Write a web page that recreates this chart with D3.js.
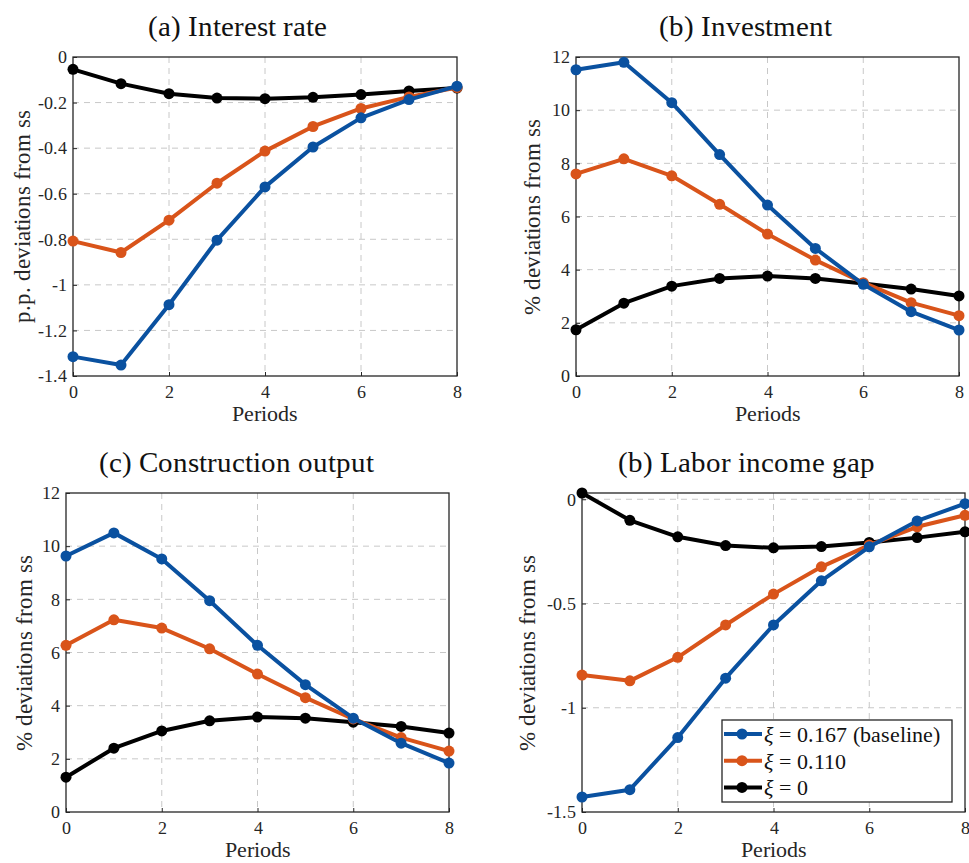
<!DOCTYPE html>
<html>
<head>
<meta charset="UTF-8">
<script src="https://cdn.jsdelivr.net/npm/d3@7"></script>
<style>
    @font-face {
        font-family: "PlotSerif";
        src: local("Liberation Serif"), local("LiberationSerif"), local("Liberation Serif Regular"), local("Tinos");
    }
    @font-face {
        font-family: "PlotSerif";
        font-style: italic;
        src: local("Liberation Serif Italic"), local("LiberationSerif-Italic");
    }
    body { margin: 0; }
    text.t { font-family: "PlotSerif", "Times New Roman", "Liberation Serif", Tinos, Times; }
</style>
</head>
<body>
<script>
    // periods on the x axis
    const periods = [0, 1, 2, 3, 4, 5, 6, 7, 8];
    const xTicks = [0, 2, 4, 6, 8];

    const seriesValues = ["0.167 (baseline)", "0.110", "0"];
    const seriesColors = ["#0a51a0", "#d9541a", "#000000"];

    // (a) interest rate, p.p.
    const rateBase = [-1.315, -1.352, -1.087, -0.804, -0.570, -0.395, -0.267, -0.187, -0.128];
    const rateMid = [-0.808, -0.858, -0.716, -0.554, -0.413, -0.305, -0.226, -0.175, -0.134];
    const rateZero = [-0.054, -0.117, -0.161, -0.180, -0.183, -0.177, -0.165, -0.149, -0.136];
    const rateTicks = [0, -0.2, -0.4, -0.6, -0.8, -1, -1.2, -1.4];

    // (b) investment, %
    const invBase = [11.52, 11.80, 10.28, 8.33, 6.43, 4.80, 3.45, 2.42, 1.73];
    const invMid = [7.60, 8.17, 7.53, 6.46, 5.34, 4.36, 3.51, 2.76, 2.27];
    const invZero = [1.74, 2.74, 3.38, 3.67, 3.76, 3.67, 3.48, 3.27, 3.01];
    const invTicks = [0, 2, 4, 6, 8, 10, 12];

    // (c) construction output, %
    const consBase = [9.63, 10.50, 9.52, 7.95, 6.27, 4.79, 3.53, 2.59, 1.84];
    const consMid = [6.27, 7.23, 6.92, 6.14, 5.19, 4.30, 3.50, 2.80, 2.29];
    const consZero = [1.31, 2.40, 3.05, 3.43, 3.57, 3.53, 3.38, 3.22, 2.97];
    const consTicks = [0, 2, 4, 6, 8, 10, 12];

    // (d) labor income gap, %
    const laborBase = [-1.428, -1.393, -1.143, -0.858, -0.603, -0.391, -0.228, -0.104, -0.021];
    const laborMid = [-0.843, -0.871, -0.758, -0.603, -0.455, -0.324, -0.220, -0.132, -0.077];
    const laborZero = [0.030, -0.101, -0.180, -0.222, -0.233, -0.227, -0.207, -0.184, -0.156];
    const laborTicks = [0, -0.5, -1, -1.5];

    const width = 969;
    const height = 863;
    const fam = "PlotSerif, 'Times New Roman', 'Liberation Serif', Tinos, Times";
    const k2 = 2; // text is set at double size and scaled down, small serif text otherwise falls back

    const panels = [
        { title: "(a) Interest rate", ylabel: "p.p. deviations from ss", series: [rateBase, rateMid, rateZero],
          ydomain: [-1.4, 0], ticks: rateTicks, box: [73, 457, 57, 376], titleX: 237, titleY: 36, ylabX: 25 },
        { title: "(b) Investment", ylabel: "% deviations from ss", series: [invBase, invMid, invZero],
          ydomain: [0, 12], ticks: invTicks, box: [576, 959, 57, 376], titleX: 745, titleY: 36, ylabX: 535 },
        { title: "(c) Construction output", ylabel: "% deviations from ss", series: [consBase, consMid, consZero],
          ydomain: [0, 12], ticks: consTicks, box: [66, 449, 493, 812], titleX: 236, titleY: 472, ylabX: 27 },
        { title: "(b) Labor income gap", ylabel: "% deviations from ss", series: [laborBase, laborMid, laborZero],
          ydomain: [-1.5, 0.03], ticks: laborTicks, box: [582, 965, 493, 812], titleX: 746, titleY: 472, ylabX: 530, legend: true }
    ];

    const svg = d3.select("body").append("svg").attr("width", width).attr("height", height);

    // text placed at (x, y), optionally rotated, drawn big then scaled
    const label = (parent, x, y, size, rot) => {
        const g = parent.append("g").attr("transform", `translate(${x},${y})${rot ? ` rotate(${rot})` : ""} scale(${1 / k2})`);
        return g.append("text").attr("class", "t").style("font-family", fam).style("font-size", (size * k2) + "px");
    };

    panels.forEach(p => {
        const [x0, x1, y0, y1] = p.box;
        const x = d3.scaleLinear().domain([0, 8]).range([x0, x1]);
        const y = d3.scaleLinear().domain(p.ydomain).range([y1, y0]);
        const g = svg.append("g");

        // grid
        g.append("g").selectAll("line")
            .data(xTicks.filter(t => t > 0 && t < 8))
            .join("line")
            .attr("x1", d => x(d)).attr("x2", d => x(d))
            .attr("y1", y0).attr("y2", y1)
            .attr("stroke", "#c8c8c8").attr("stroke-width", 1).attr("stroke-dasharray", "6,5");
        g.append("g").selectAll("line")
            .data(p.ticks.filter(t => y(t) > y0 + 1 && y(t) < y1 - 1))
            .join("line")
            .attr("x1", x0).attr("x2", x1)
            .attr("y1", d => y(d)).attr("y2", d => y(d))
            .attr("stroke", "#c8c8c8").attr("stroke-width", 1).attr("stroke-dasharray", "6,5");

        // axes
        const xa = g.append("g").attr("transform", `translate(0,${y1})`)
            .call(d3.axisBottom(x).tickValues(xTicks).tickSizeInner(-4).tickSizeOuter(0).tickPadding(9).tickFormat(d3.format("d")));
        const ya = g.append("g").attr("transform", `translate(${x0},0)`)
            .call(d3.axisLeft(y).tickValues(p.ticks).tickSizeInner(-4).tickSizeOuter(0).tickPadding(6).tickFormat(d => String(d)));
        [xa, ya].forEach(a => {
            a.attr("font-family", null).attr("font-size", null);
            a.select(".domain").remove();
            a.selectAll("line").attr("stroke", "#262626");
            a.selectAll("text").each(function () {
                const t = d3.select(this);
                const tx = +(t.attr("x") || 0), ty = +(t.attr("y") || 0);
                t.attr("class", "t").attr("fill", "#262626")
                    .attr("transform", `scale(${1 / k2})`)
                    .attr("x", tx * k2).attr("y", ty * k2)
                    .style("font-family", fam).style("font-size", (18 * k2) + "px");
            });
        });

        // box
        g.append("rect").attr("x", x0).attr("y", y0).attr("width", x1 - x0).attr("height", y1 - y0)
            .attr("fill", "none").attr("stroke", "#262626").attr("stroke-width", 1.3);

        // black under orange under blue
        const line = d3.line().x((d, i) => x(periods[i])).y(d => y(d));
        [2, 1, 0].forEach(k => {
            const vals = p.series[k];
            g.append("path").datum(vals)
                .attr("d", line).attr("fill", "none")
                .attr("stroke", seriesColors[k]).attr("stroke-width", 4).attr("stroke-linejoin", "round");
            g.append("g").selectAll("circle").data(vals).join("circle")
                .attr("cx", (d, i) => x(periods[i])).attr("cy", d => y(d)).attr("r", 5.5)
                .attr("fill", seriesColors[k]);
        });

        // title and labels
        label(svg, p.titleX, p.titleY, 29).attr("text-anchor", "middle").attr("fill", "#111").text(p.title);
        label(svg, (x0 + x1) / 2, y1 + 45, 22).attr("text-anchor", "middle").attr("fill", "#262626").text("Periods");
        label(svg, p.ylabX, (y0 + y1) / 2, 23, -90)
            .attr("text-anchor", "middle").attr("dominant-baseline", "middle")
            .attr("fill", "#262626").text(p.ylabel);

        if (p.legend) {
            const lg = svg.append("g").attr("transform", "translate(722,720)");
            lg.append("rect").attr("width", 230).attr("height", 82)
                .attr("fill", "#fff").attr("stroke", "#262626").attr("stroke-width", 1.3);
            seriesValues.forEach((val, i) => {
                const ry = 14 + i * 26.7;
                lg.append("line").attr("x1", 2).attr("x2", 40).attr("y1", ry).attr("y2", ry)
                    .attr("stroke", seriesColors[i]).attr("stroke-width", 4);
                lg.append("circle").attr("cx", 20).attr("cy", ry).attr("r", 5.5).attr("fill", seriesColors[i]);
                const t = label(lg, 42, ry, 22).attr("dominant-baseline", "central").attr("fill", "#111");
                t.append("tspan").style("font-style", "italic").text("\u03be");
                t.append("tspan").text(" = " + val);
            });
        }
    });
</script>
</body>
</html>
